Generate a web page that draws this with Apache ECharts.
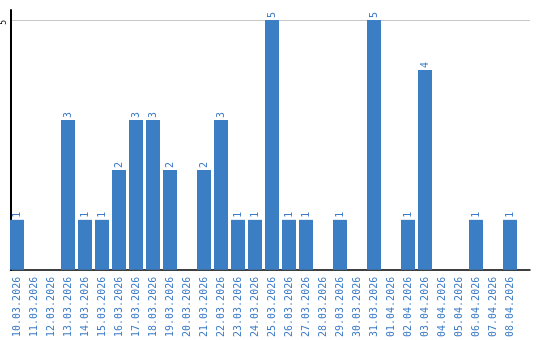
<!DOCTYPE html>
<html><head><meta charset="utf-8">
<script src="https://cdn.jsdelivr.net/npm/echarts@6/dist/echarts.min.js"></script>
<style>html,body{margin:0;padding:0;background:#fff}#c{width:540px;height:340px}</style>
</head><body><div id="c"></div>
<script>
const categories = ['10.03.2026','11.03.2026','12.03.2026','13.03.2026','14.03.2026','15.03.2026','16.03.2026','17.03.2026','18.03.2026','19.03.2026','20.03.2026','21.03.2026','22.03.2026','23.03.2026','24.03.2026','25.03.2026','26.03.2026','27.03.2026','28.03.2026','29.03.2026','30.03.2026','31.03.2026','01.04.2026','02.04.2026','03.04.2026','04.04.2026','05.04.2026','06.04.2026','07.04.2026','08.04.2026'];
const values = [1,0,0,3,1,1,2,3,3,2,0,2,3,1,1,5,1,1,0,1,0,5,0,1,4,0,0,1,0,1];
const yTickLabels = ['5'];

const BLUE = '#3b7ec3';
const LBLUE = '#3d7cc6';
const FONT = 'DejaVu Sans Mono';
const chart = echarts.init(document.getElementById('c'), null, {renderer: 'canvas'});
chart.setOption({
  animation: false,
  grid: [
    {left: 8.5, top: 20, width: 510, height: 250, containLabel: false},
    {left: 10, top: 10, width: 520, height: 260, containLabel: false}
  ],
  xAxis: [
    {type: 'category', gridIndex: 0, data: categories, boundaryGap: true,
     axisLine: {show: false}, axisTick: {show: false}, splitLine: {show: false},
     axisLabel: {interval: 0, rotate: 90, margin: 7, fontFamily: FONT, fontSize: 10, color: LBLUE}},
    {type: 'value', gridIndex: 1, min: 0, max: 1,
     axisLine: {show: true, lineStyle: {color: '#000', width: 1.5}},
     axisTick: {show: false}, axisLabel: {show: false}, splitLine: {show: false}}
  ],
  yAxis: [
    {type: 'value', gridIndex: 0, min: 0, max: 5, show: false, splitLine: {show: false}},
    {type: 'value', gridIndex: 1, min: 0, max: 5.2, interval: 5,
     axisLine: {show: true, lineStyle: {color: '#000', width: 2}},
     axisTick: {show: false},
     axisLabel: {rotate: 90, margin: 6.5, align: 'right', verticalAlign: 'middle',
       fontFamily: FONT, fontSize: 8, color: '#000',
       formatter: v => (yTickLabels.indexOf(String(v)) >= 0 ? String(v) : '')},
     splitLine: {show: true, lineStyle: {color: ['rgba(0,0,0,0)', '#c8c8c8', 'rgba(0,0,0,0)'], width: 1}}}
  ],
  series: [{
    type: 'bar', xAxisIndex: 0, yAxisIndex: 0, data: values, barWidth: 14,
    itemStyle: {color: BLUE},
    label: {show: true, position: 'top', distance: 2, rotate: 90, align: 'left', verticalAlign: 'middle',
      fontFamily: FONT, fontSize: 10, color: LBLUE,
      formatter: p => (p.value ? String(p.value) : '')}
  }]
});
</script>
</body></html>
